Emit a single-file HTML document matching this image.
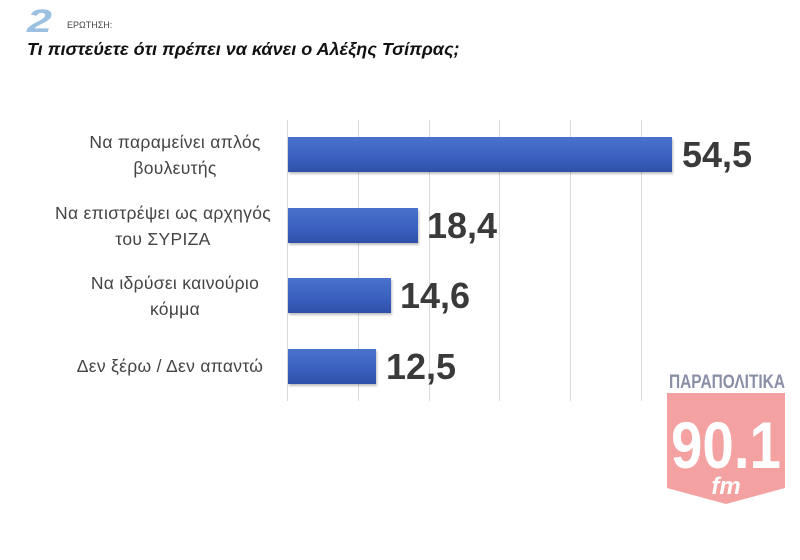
<!DOCTYPE html>
<html><head><meta charset="utf-8"><style>
body{margin:0;width:800px;height:560px;background:#fff;overflow:hidden;font-family:"Liberation Sans","DejaVu Sans",sans-serif;position:relative}
.a{position:absolute}
.lbl{position:absolute;left:33px;text-align:center;font-size:17.5px;letter-spacing:0.3px;color:#444;line-height:26px;width:260px;white-space:nowrap}
.bar{position:absolute;left:288px;height:35px;background:linear-gradient(#4a72cc,#3a5fbe 60%,#2f50a8);box-shadow:1px 2px 2px rgba(0,0,0,.25)}
.val{position:absolute;font-size:36px;font-weight:bold;color:#3a3a3a;line-height:36px}
.g{position:absolute;top:120px;height:281px;width:1px;background:#d9d9d9}
</style></head><body>
<div class="a" style="left:27px;top:6px;font-size:32px;font-weight:bold;font-style:italic;color:#9cc0e0;line-height:30px;transform:scaleX(1.4);transform-origin:left">2</div>
<div class="a" style="left:67px;top:20px;font-size:9px;color:#444">ΕΡΩΤΗΣΗ:</div>
<div class="a" style="left:27px;top:39px;font-size:18px;font-weight:bold;font-style:italic;color:#111">Τι πιστεύετε ότι πρέπει να κάνει ο Αλέξης Τσίπρας;</div>
<div class="g" style="left:287px"></div><div class="g" style="left:358px"></div><div class="g" style="left:429px"></div><div class="g" style="left:499px"></div><div class="g" style="left:570px"></div><div class="g" style="left:641px"></div>
<div class="bar" style="top:137px;width:384px"></div>
<div class="bar" style="top:208px;width:130px"></div>
<div class="bar" style="top:278px;width:103px"></div>
<div class="bar" style="top:349px;width:88px"></div>
<div class="val" style="left:682px;top:137px">54,5</div>
<div class="val" style="left:427px;top:208px">18,4</div>
<div class="val" style="left:400px;top:278px">14,6</div>
<div class="val" style="left:386px;top:349px">12,5</div>
<div class="lbl" style="top:129px;left:45px">Να παραμείνει απλός<br>βουλευτής</div>
<div class="lbl" style="top:200px">Να επιστρέψει ως αρχηγός<br>του ΣΥΡΙΖΑ</div>
<div class="lbl" style="top:270px;left:45px">Να ιδρύσει καινούριο<br>κόμμα</div>
<div class="lbl" style="top:353px;left:40px">Δεν ξέρω / Δεν απαντώ</div>
<svg class="a" style="left:660px;top:368px" width="135" height="140">
<text x="67" y="20" text-anchor="middle" font-family="Liberation Sans Narrow,Liberation Sans,sans-serif" font-weight="bold" font-size="19" fill="#8a8fa8" textLength="116" lengthAdjust="spacingAndGlyphs">ΠΑΡΑΠΟΛΙΤΙΚΑ</text>
<polygon points="7,25 125,25 125,120 66,136 7,120" fill="#f08a8a" opacity="0.8"/>
<text x="66" y="100" text-anchor="middle" font-family="Liberation Sans,sans-serif" font-weight="bold" font-size="66" fill="#fff" textLength="110" lengthAdjust="spacingAndGlyphs">90.1</text>
<text x="66" y="126" text-anchor="middle" font-family="Liberation Sans,sans-serif" font-weight="bold" font-style="italic" font-size="24" fill="#fff">fm</text>
</svg>
</body></html>
